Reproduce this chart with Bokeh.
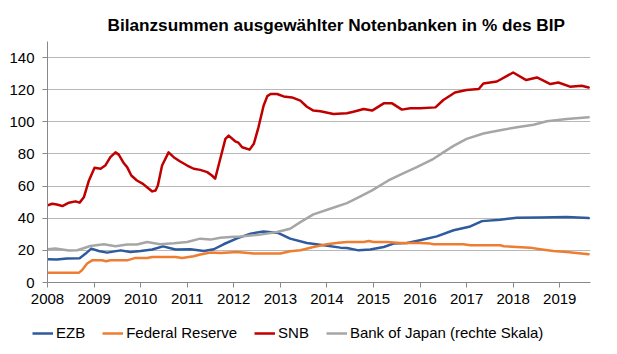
from bokeh.plotting import figure
from bokeh.models import Legend, LegendItem, Range1d, FixedTicker
from bokeh.layouts import column
from bokeh.embed import file_html
from bokeh.resources import INLINE

# ---- data ----
title_text = "Bilanzsummen ausgewählter Notenbanken in % des BIP"
series_names = ["EZB", "Federal Reserve", "SNB", "Bank of Japan (rechte Skala)"]
x_ticks = list(range(2008, 2020))
y_ticks = [0, 20, 40, 60, 80, 100, 120, 140]

ezb_t = [2008.0, 2008.2, 2008.42, 2008.69, 2008.82, 2008.94, 2009.1, 2009.28, 2009.57, 2009.78,
         2010.0, 2010.25, 2010.48, 2010.75, 2011.07, 2011.36, 2011.57, 2011.78, 2012.07, 2012.36,
         2012.64, 2012.96, 2013.21, 2013.57, 2013.93, 2014.29, 2014.43, 2014.68, 2014.93, 2015.22,
         2015.43, 2015.72, 2016.0, 2016.36, 2016.72, 2017.08, 2017.33, 2017.72, 2018.08, 2018.58,
         2019.15, 2019.62]
ezb_v = [14.5, 14.3, 14.9, 15.1, 18.0, 21.1, 19.6, 18.6, 20.0, 19.0,
         19.6, 20.5, 22.5, 20.5, 20.7, 19.6, 20.7, 23.8, 27.5, 30.4,
         31.8, 30.8, 27.3, 24.6, 23.2, 21.7, 21.5, 20.0, 20.5, 22.1,
         24.2, 24.6, 26.3, 28.7, 32.5, 34.9, 38.2, 39.1, 40.3, 40.5,
         40.7, 40.1]

fed_t = [2008.0, 2008.67, 2008.74, 2008.85, 2008.96, 2009.17, 2009.26, 2009.35, 2009.71, 2009.89,
         2010.14, 2010.25, 2010.75, 2010.89, 2011.14, 2011.28, 2011.5, 2011.71, 2012.07, 2012.43,
         2013.0, 2013.21, 2013.43, 2013.71, 2014.0, 2014.25, 2014.43, 2014.79, 2014.9, 2015.0,
         2015.29, 2015.57, 2016.0, 2016.22, 2016.29, 2016.93, 2017.08, 2017.72, 2017.8, 2018.36,
         2018.58, 2018.86, 2019.15, 2019.62]
fed_v = [6.0, 6.0, 7.6, 11.8, 13.8, 13.8, 13.2, 13.8, 13.8, 15.3,
         15.3, 15.9, 15.9, 15.3, 16.3, 17.4, 18.6, 18.4, 19.0, 18.0,
         18.0, 19.4, 20.1, 22.1, 23.8, 24.8, 25.2, 25.2, 25.8, 25.2,
         25.2, 24.6, 24.6, 24.2, 23.8, 23.8, 23.2, 23.2, 22.6, 21.7,
         20.7, 19.6, 19.0, 17.6]

snb_t = [2008.0, 2008.1, 2008.2, 2008.32, 2008.46, 2008.6, 2008.69, 2008.78, 2008.89, 2009.01,
         2009.14, 2009.24, 2009.35, 2009.46, 2009.53, 2009.64, 2009.71, 2009.8, 2009.92, 2010.05,
         2010.15, 2010.25, 2010.32, 2010.37, 2010.46, 2010.6, 2010.71, 2010.85, 2011.0, 2011.14,
         2011.28, 2011.43, 2011.53, 2011.6, 2011.71, 2011.82, 2011.89, 2012.03, 2012.1, 2012.18,
         2012.34, 2012.43, 2012.53, 2012.64, 2012.72, 2012.79, 2012.93, 2013.07, 2013.25, 2013.43,
         2013.57, 2013.71, 2013.86, 2014.14, 2014.43, 2014.57, 2014.79, 2014.97, 2015.22, 2015.4,
         2015.61, 2015.79, 2016.0, 2016.33, 2016.5, 2016.75, 2017.0, 2017.26, 2017.36, 2017.65,
         2018.0, 2018.28, 2018.51, 2018.8, 2018.97, 2019.22, 2019.47, 2019.62]
snb_v = [48.0, 49.0, 48.5, 47.6, 49.7, 50.5, 49.7, 53.0, 63.5, 71.4,
         70.8, 72.8, 78.0, 81.0, 79.6, 74.2, 71.8, 66.6, 63.5, 61.4,
         59.0, 56.7, 57.3, 60.4, 72.8, 81.0, 78.0, 75.3, 72.8, 70.8,
         70.1, 68.7, 66.6, 64.6, 77.0, 89.4, 91.4, 87.9, 87.0, 84.2,
         82.7, 86.3, 96.6, 110.0, 116.0, 117.3, 117.3, 115.8, 115.2, 113.2,
         109.4, 107.0, 106.6, 104.9, 105.3, 106.3, 108.0, 107.0, 111.5, 111.5,
         107.6, 108.4, 108.4, 109.0, 113.6, 118.3, 119.8, 120.4, 123.9, 125.1,
         130.7, 126.0, 127.6, 123.5, 124.5, 121.9, 122.5, 121.4]

boj_t = [2008.0, 2008.17, 2008.46, 2008.64, 2008.92, 2009.21, 2009.46, 2009.71, 2009.92, 2010.14,
         2010.42, 2010.71, 2011.0, 2011.28, 2011.5, 2011.71, 2012.0, 2012.14, 2012.57, 2012.93,
         2013.21, 2013.43, 2013.71, 2014.07, 2014.43, 2014.72, 2014.97, 2015.32, 2015.58, 2015.93,
         2016.29, 2016.5, 2016.72, 2017.0, 2017.36, 2017.72, 2018.08, 2018.44, 2018.72, 2019.15,
         2019.62]
boj_v = [20.7, 21.1, 19.9, 20.1, 22.7, 23.8, 22.5, 23.6, 23.6, 25.2,
         23.8, 24.4, 25.2, 27.3, 26.7, 27.9, 28.5, 28.7, 29.8, 31.4,
         33.5, 37.6, 42.4, 45.9, 49.4, 53.6, 57.3, 63.5, 67.2, 71.8,
         77.0, 81.0, 85.0, 89.4, 92.7, 94.8, 96.6, 98.2, 100.4, 101.8,
         102.8]

colors = ["#2E5A9E", "#ED7D31", "#C00000", "#A6A6A6"]
FONT = "Liberation Sans"
LW = 2.5
all_t = [ezb_t, fed_t, snb_t, boj_t]
all_v = [ezb_v, fed_v, snb_v, boj_v]

# ---------------- main chart ----------------
p = figure(width=617, height=318, output_backend="svg", toolbar_location=None,
           x_range=Range1d(2008, 2019.66), y_range=Range1d(0, 150),
           min_border_left=47, min_border_right=27, min_border_top=41, min_border_bottom=36,
           background_fill_color="white", border_fill_color="white")
p.outline_line_color = None
p.frame_align = False

p.title.text = title_text
p.title.text_font = FONT
p.title.text_font_size = "17.2px"
p.title.text_font_style = "bold"
p.title.text_color = "#000000"
p.title.align = "left"
p.title.offset = 60
p.title.standoff = 14

for t, v, c in zip(all_t, all_v, colors):
    p.line(t, v, line_color=c, line_width=LW, line_join="round", line_cap="round")

p.xaxis.ticker = FixedTicker(ticks=x_ticks)
p.yaxis.ticker = FixedTicker(ticks=y_ticks)
for ax in (p.xaxis, p.yaxis):
    ax.axis_line_color = "#888888"
    ax.axis_line_width = 1
    ax.major_tick_line_color = "#888888"
    ax.major_tick_out = 5
    ax.major_tick_in = 0
    ax.minor_tick_line_color = None
    ax.major_label_text_font = FONT
    ax.major_label_text_font_size = "15px"
    ax.major_label_text_color = "#000000"
p.xaxis.major_label_standoff = 6
p.yaxis.major_label_standoff = 8

p.xgrid.grid_line_color = None
p.ygrid.grid_line_color = "#B8B8B8"
p.ygrid.grid_line_width = 1

# ---------------- legend strip ----------------
# the key lines reuse the series data; the strip's ranges keep them out of view,
# so only their legend glyphs appear
lg = figure(width=617, height=36, output_backend="svg", toolbar_location=None,
            x_range=Range1d(0, 1), y_range=Range1d(0, 1),
            min_border_left=0, min_border_right=0, min_border_top=0, min_border_bottom=0,
            background_fill_color="white", border_fill_color="white")
lg.outline_line_color = None
lg.frame_align = False
lg.xaxis.visible = False
lg.yaxis.visible = False
lg.grid.grid_line_color = None

key_renderers = [lg.line(t, v, line_color=c, line_width=LW) for t, v, c in zip(all_t, all_v, colors)]
legend = Legend(items=[LegendItem(label=n, renderers=[r]) for n, r in zip(series_names, key_renderers)],
                orientation="horizontal", location=(32, 13),
                padding=0, margin=0, spacing=17, glyph_width=21, glyph_height=16,
                label_standoff=3, label_text_font=FONT, label_text_font_size="15px",
                label_text_color="#000000", border_line_color=None, background_fill_alpha=0)
lg.add_layout(legend, "center")

layout = column(p, lg, spacing=0)
open("out.html", "w").write(file_html(layout, INLINE))
